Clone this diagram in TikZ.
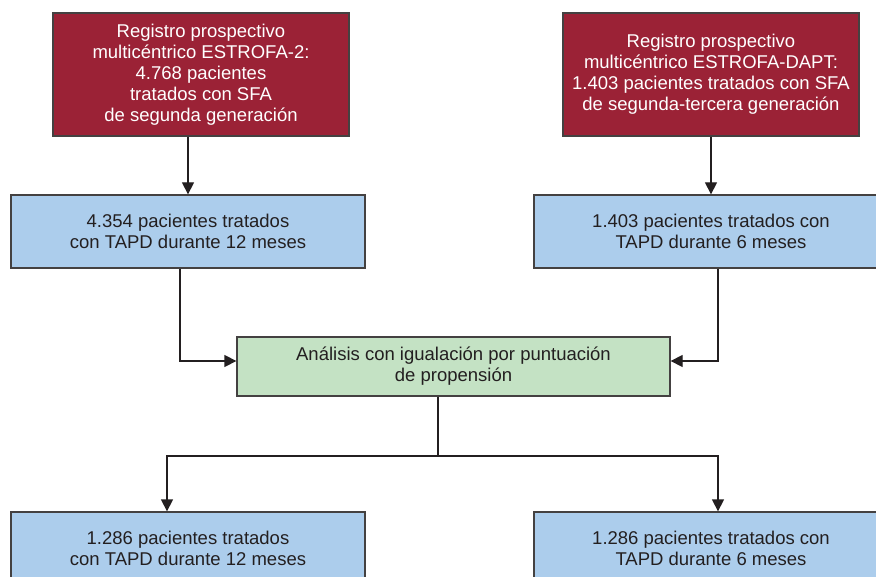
\documentclass[tikz,border=0pt]{standalone}
\usepackage{fontspec}
\setmainfont{Liberation Sans}
\usetikzlibrary{arrows.meta}
\definecolor{regred}{RGB}{155,34,54}
\definecolor{tapdblue}{RGB}{172,205,236}
\definecolor{psmgreen}{RGB}{196,226,196}
\definecolor{inkgray}{RGB}{35,31,32}
\tikzset{
  box/.style={draw=inkgray!85, line width=1.3pt, align=center, inner sep=0pt,
    font=\fontsize{18.5}{21}\selectfont},
  regbox/.style={box, fill=regred, text=white, minimum width=296, minimum height=123},
  tapdbox/.style={box, fill=tapdblue, text=inkgray, minimum width=354, minimum height=73},
  psmbox/.style={box, fill=psmgreen, text=inkgray, minimum width=433, minimum height=59},
  arr/.style={draw=inkgray, line width=1.3pt, -{Triangle[length=12pt,width=12pt]}},
  ln/.style={draw=inkgray, line width=1.3pt}
}
\begin{document}
\begin{tikzpicture}[x=1pt,y=-1pt]
      \clip (0,0) rectangle (876,577);
      \fill[white] (0,0) rectangle (876,577);
      \node[regbox] (reg2) at (201,74.5) {Registro prospectivo\\multicéntrico ESTROFA-2:\\4.768 pacientes\\tratados con SFA\\de segunda generación};
      \node[regbox] (regdapt) at (711,74.5) {Registro prospectivo\\multicéntrico ESTROFA-DAPT:\\1.403 pacientes tratados con SFA\\de segunda-tercera generación};
      \node[tapdbox] (tapd12) at (188,231.5) {4.354 pacientes tratados\\con TAPD durante 12 meses};
      \node[tapdbox] (tapd6) at (711,231.5) {1.403 pacientes tratados con\\TAPD durante 6 meses};
      \node[psmbox] (psm) at (453.5,366.5) {Análisis con igualación por puntuación\\de propensión};
      \node[tapdbox] (out12) at (188,548.5) {1.286 pacientes tratados\\con TAPD durante 12 meses};
      \node[tapdbox] (out6) at (711,548.5) {1.286 pacientes tratados con\\TAPD durante 6 meses};
      \coordinate (split) at (438,456);
      \draw[arr] (reg2.south -| tapd12.north) -- (tapd12.north);
      \draw[arr] (regdapt) -- (tapd6);
      \draw[arr] ([xshift=-8]tapd12.south) |- ([yshift=5.5]psm.west);
      \draw[arr] ([xshift=7]tapd6.south) |- ([yshift=5.5]psm.east);
      \draw[ln] (psm.south -| split) -- (split);
      \draw[arr] (split) -| ([xshift=-21]out12.north);
      \draw[arr] (split) -| ([xshift=7]out6.north);
    \end{tikzpicture}
\end{document}
